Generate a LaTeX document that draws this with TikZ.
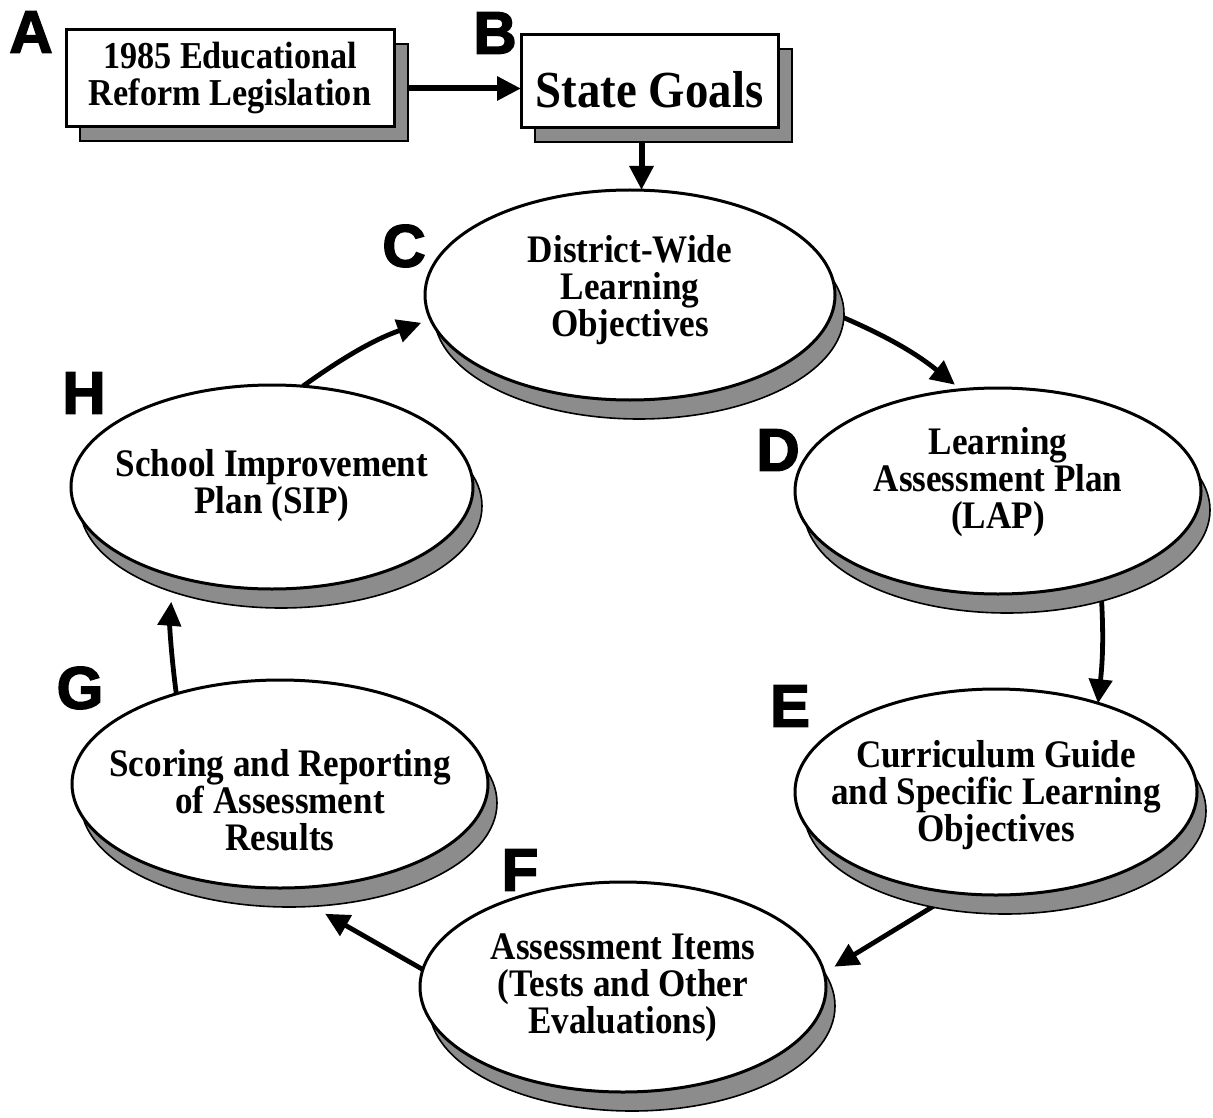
\documentclass[tikz,border=0pt]{standalone}
\usepackage{fontspec}
\setmainfont{Liberation Serif}[BoldFeatures={FakeStretch=0.9}]
\newfontfamily\lblfont{Liberation Sans Bold}[FakeBold=2.5]
\usetikzlibrary{shapes.geometric,shadows,arrows.meta,backgrounds}
\begin{document}
\begin{tikzpicture}[x=0.5pt,y=-0.5pt,
  ell/.style={ellipse, draw=black, line width=1.5pt, fill=white, inner sep=0pt, outer sep=0pt,
    drop shadow={shadow xshift=4.5pt, shadow yshift=-9.5pt, fill=black!45, draw=black, line width=0.8pt, opacity=1}},
  boxnode/.style={rectangle, draw=black, line width=1.5pt, fill=white, inner sep=0pt, outer sep=0pt, align=center,
    drop shadow={shadow xshift=7pt, shadow yshift=-7pt, fill=black!45, draw=black, line width=0.6pt, opacity=1}},
  txt/.style={align=center, inner sep=0pt, font=\bfseries\fontsize{19.5}{18.5}\selectfont},
  lbl/.style={inner sep=0pt, font=\lblfont\fontsize{30}{30}\selectfont},
  conn/.style={line width=2.4pt, -{Triangle[length=12pt,width=11.5pt]}},
]
\useasboundingbox (0,0) rectangle (1213,1117);

% boxes
\node[boxnode, minimum width=164pt, minimum height=48.5pt,
      font=\bfseries\fontsize{19}{18.5}\selectfont] (A) at (230,78.5)
      {1985 Educational\\Reform Legislation};
\node[boxnode, minimum width=128.5pt, minimum height=46.5pt,
      font=\bfseries\fontsize{26}{26}\selectfont, text height=26pt, text depth=0pt] (B) at (649.5,81.5)
      {State Goals};

% ellipses
\node[ell, minimum width=205pt, minimum height=105pt] (C) at (630,295) {};
\node[ell, minimum width=203pt, minimum height=103pt] (D) at (998,491) {};
\node[ell, minimum width=201pt, minimum height=103pt] (E) at (996,792) {};
\node[ell, minimum width=203pt, minimum height=105pt] (F) at (623,987) {};
\node[ell, minimum width=208pt, minimum height=104pt] (G) at (280,784) {};
\node[ell, minimum width=201pt, minimum height=102pt] (H) at (272,487) {};

% ellipse texts
\node[txt] (Ct) at (630,290) {District-Wide\\Learning\\Objectives};
\node[txt] (Dt) at (998,482) {Learning\\Assessment Plan\\(LAP)};
\node[txt] (Et) at (996,795) {Curriculum Guide\\and Specific Learning\\Objectives};
\node[txt] (Ft) at (623,988) {Assessment Items\\(Tests and Other\\Evaluations)};
\node[txt] (Gt) at (280,800) {Scoring and Reporting\\of Assessment\\Results};
\node[txt] (Ht) at (272,486) {School Improvement\\Plan (SIP)};

% letter labels
\node[lbl] (LA) at (31,32) {A};
\node[lbl] (LB) at (495,33) {B};
\node[lbl] (LC) at (404,246) {C};
\node[lbl] (LD) at (778,450) {D};
\node[lbl] (LE) at (790,706) {E};
\node[lbl] (LF) at (520,870) {F};
\node[lbl] (LG) at (80,688) {G};
\node[lbl] (LH) at (84,393) {H};

% connectors
\begin{scope}[on background layer]
\draw[conn, line width=3pt] ([yshift=-5pt]A.east) -- ([yshift=-5pt]A.east -| B.west);
\draw[conn, line width=3pt] ([xshift=-4pt]B.south) -- ([xshift=-4pt]B.south |- C.north);
\draw[conn, shorten >=4pt] (C.-5) to[bend left=8] (D.110);
\draw[conn] (D.-41) to[bend left=5] (E.41);
\draw[conn, shorten >=6pt] (E.248) -- (F.4);
\draw[conn, shorten >=26pt] (F.175) -- (G.south);
\draw[conn, shorten >=13pt] (G.139) to[bend left=6] (H.222);
\draw[conn, shorten >=5pt] (H.73) to[bend left=8] (C.187);
\end{scope}
\end{tikzpicture}
\end{document}
